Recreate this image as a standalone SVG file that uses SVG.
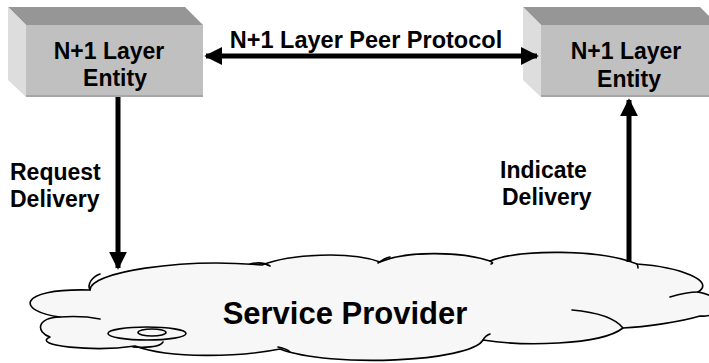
<svg xmlns="http://www.w3.org/2000/svg" width="709" height="363" viewBox="0 0 709 363">
  <defs>
    <style>
      .lbl { font-family: "Liberation Sans", Arial, sans-serif; font-weight: bold; fill: #000; }
      .box-text { font-size: 23px; text-anchor: middle; }
      .side-text { font-size: 23px; }
      .front { fill: #c0c0c0; }
      .top { fill: #969696; }
      .side { fill: #dddddd; }
      .base { fill: #a6a6a6; }
      .wire { stroke: #000; stroke-width: 5; fill: none; }
      .cloud { fill: #f7f7f7; stroke: #000; stroke-width: 1.6; stroke-linejoin: round; }
      .hook { fill: none; stroke: #000; stroke-width: 1.6; stroke-linecap: round; }
    </style>
    <marker id="head" viewBox="0 0 10 10" refX="9" refY="5" markerWidth="3.6" markerHeight="3.6" orient="auto-start-reverse" markerUnits="strokeWidth">
      <path d="M0,0 L10,5 L0,10 Z" fill="#000"/>
    </marker>
  </defs>

  <!-- service provider cloud -->
  <g id="service-provider">
    <path class="cloud" d="
      M 90,290
      C 90,272 180,258 262,265
      C 290,254 350,251 380,262
      C 405,251 460,251 490,261
      C 520,249 600,249 637,264
      C 680,267 716,281 698,292
      C 730,298 722,318 700,316
      C 680,322 645,327 623,328
      C 600,346 520,346 483,340
      C 470,362 330,368 280,349
      C 240,357 170,359 135,346
      C 95,352 30,346 50,337
      C 36,332 36,318 60,317
      C 18,312 14,288 90,290 Z"/>
    <!-- inner lobe hooks -->
    <path class="hook" d="M 90,290 C 87,284 92,277 100,274"/>
    <path class="hook" d="M 250,264 C 258,262 265,263 270,266"/>
    <path class="hook" d="M 378,263 C 382,260 385,258 390,257"/>
    <path class="hook" d="M 490,261 C 492,262 494,263 491,264"/>
    <path class="hook" d="M 637,264 C 638,266 638,267 638,268"/>
    <path class="hook" d="M 670,297 C 680,294 690,292 698,292"/>
    <path class="hook" d="M 572,310 C 595,312 615,318 623,328"/>
    <path class="hook" d="M 483,340 C 485,336 487,335 490,334"/>
    <path class="hook" d="M 278,347 C 283,348 287,349 290,352"/>
    <path class="hook" d="M 60,317 C 75,316 90,317 100,319"/>
    <path class="hook" d="M 133,347 C 150,348 160,347 163,342"/>
    <!-- trailing puffs -->
    <ellipse class="cloud" cx="147" cy="333.5" rx="39" ry="6.5"/>
    <ellipse class="cloud" cx="152" cy="332.5" rx="14" ry="3.5"/>
    <text class="lbl" x="345" y="324" font-size="31" text-anchor="middle">Service Provider</text>
  </g>

  <!-- left entity -->
  <g id="entity-left">
    <polygon class="top" points="8,7 185,7 203,25 26,25"/>
    <polygon class="side" points="8,7 26,25 26,97 8,80"/>
    <rect class="front" x="26" y="25" width="177" height="72"/>
    <rect class="base" x="26" y="95" width="177" height="2"/>
    <text class="lbl box-text" x="109" y="59">N+1 Layer</text>
    <text class="lbl box-text" x="115" y="86">Entity</text>
  </g>

  <!-- right entity -->
  <g id="entity-right">
    <polygon class="top" points="523,7 700,7 718,25 541,25"/>
    <polygon class="side" points="523,7 541,25 541,97 523,80"/>
    <rect class="front" x="541" y="25" width="177" height="72"/>
    <rect class="base" x="541" y="95" width="177" height="2"/>
    <text class="lbl box-text" x="626" y="59">N+1 Layer</text>
    <text class="lbl box-text" x="629" y="87">Entity</text>
  </g>

  <!-- connectors -->
  <g id="connectors">
    <line class="wire" x1="206" y1="56" x2="537" y2="56" marker-start="url(#head)" marker-end="url(#head)"/>
    <line class="wire" x1="118" y1="97" x2="118" y2="268" marker-end="url(#head)"/>
    <line class="wire" x1="629" y1="262" x2="629" y2="100" marker-end="url(#head)"/>
  </g>

  <!-- connector labels -->
  <g id="labels">
    <text class="lbl" x="366" y="48" font-size="23.5" text-anchor="middle">N+1 Layer Peer Protocol</text>
    <text class="lbl side-text" x="10" y="180">Request</text>
    <text class="lbl side-text" x="10" y="207">Delivery</text>
    <text class="lbl side-text" x="500" y="178">Indicate</text>
    <text class="lbl side-text" x="502" y="205">Delivery</text>
  </g>
</svg>
